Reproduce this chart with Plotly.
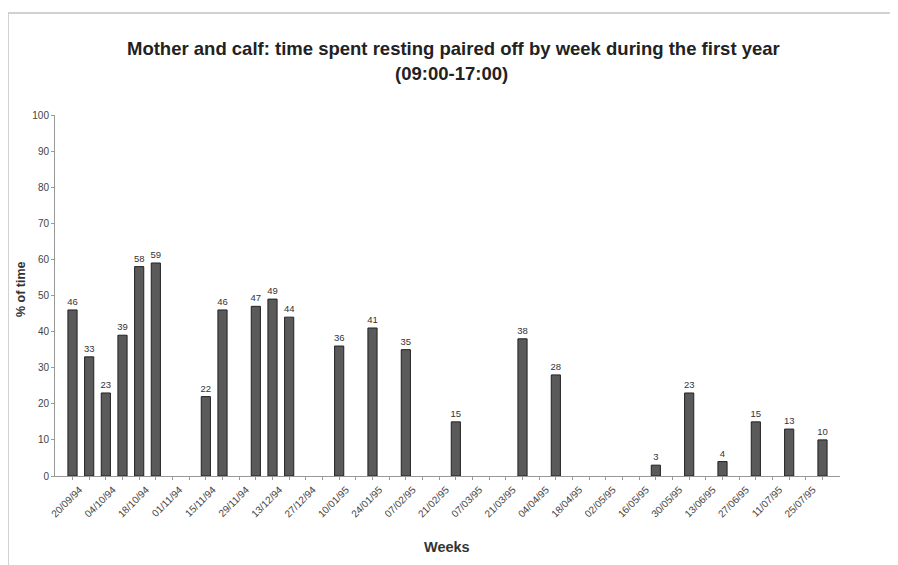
import plotly.graph_objects as go

weeks = ["20/09/94", "27/09/94", "04/10/94", "11/10/94", "18/10/94", "25/10/94",
         "01/11/94", "08/11/94", "15/11/94", "22/11/94", "29/11/94", "06/12/94",
         "13/12/94", "20/12/94", "27/12/94", "03/01/95", "10/01/95", "17/01/95",
         "24/01/95", "31/01/95", "07/02/95", "14/02/95", "21/02/95", "28/02/95",
         "07/03/95", "14/03/95", "21/03/95", "28/03/95", "04/04/95", "11/04/95",
         "18/04/95", "25/04/95", "02/05/95", "09/05/95", "16/05/95", "23/05/95",
         "30/05/95", "06/06/95", "13/06/95", "20/06/95", "27/06/95", "04/07/95",
         "11/07/95", "18/07/95", "25/07/95", "01/08/95"]

pct_time = [46, 33, 23, 39, 58, 59,
            None, None, 22, 46, None, 47,
            49, 44, None, None, 36, None,
            41, None, 35, None, None, 15,
            None, None, None, 38, None, 28,
            None, None, None, None, None, 3,
            None, 23, None, 4, None, 15,
            None, 13, None, 10]

tick_labels = [w if i % 2 == 0 else "" for i, w in enumerate(weeks)]
bar_text = ["" if v is None else str(v) for v in pct_time]

FONT = "Liberation Sans, Arial, sans-serif"

fig = go.Figure()
fig.add_trace(go.Bar(
    x=weeks, y=pct_time, text=bar_text, textposition="outside",
    constraintext="none",
    textfont=dict(size=9.5, color="#333", family=FONT),
    marker=dict(color="#5a5a5a", line=dict(color="#222", width=1)),
    width=0.55, cliponaxis=False, showlegend=False,
))

# page has an 8px body margin; figure sized to fit the 898x565 window
OFF = 8
W, H = 890, 557
L, R, T, B = 47, 58, 107, 89
pw, ph = W - L - R, H - T - B

def px(xp):
    return (xp - OFF - L) / pw

def py(yp):
    return (H - B - (yp - OFF)) / ph

fig.update_layout(
    width=W, height=H,
    margin=dict(l=L, r=R, t=T, b=B),
    paper_bgcolor="white", plot_bgcolor="white",
    font=dict(family=FONT, color="#333"),
    xaxis=dict(
        type="category", range=[-1.05, 46.05],
        tickmode="array", tickvals=weeks, ticktext=tick_labels,
        tickangle=-45, tickfont=dict(size=10, color="#444"),
        ticklabelshift=7,
        ticks="outside", ticklen=3, tickcolor="#999",
        showline=True, linecolor="#999", linewidth=1,
        showgrid=False, zeroline=False,
    ),
    yaxis=dict(
        range=[0, 100], dtick=10, tickfont=dict(size=10, color="#444"),
        ticks="outside", ticklen=3, tickcolor="#999",
        showline=True, linecolor="#999", linewidth=1,
        showgrid=False, zeroline=False,
    ),
    annotations=[
        dict(text="<b>Mother and calf: time spent resting paired off by week during the first year</b>",
             x=px(453), y=py(48), xref="paper", yref="paper", showarrow=False,
             font=dict(size=18.5, color="#222", family=FONT), xanchor="center", yanchor="middle"),
        dict(text="<b>(09:00-17:00)</b>",
             x=px(451), y=py(73), xref="paper", yref="paper", showarrow=False,
             font=dict(size=18.5, color="#222", family=FONT), xanchor="center", yanchor="middle"),
        dict(text="<b>Weeks</b>", x=px(447), y=py(547), xref="paper", yref="paper",
             showarrow=False, font=dict(size=14.5, color="#333", family=FONT),
             xanchor="center", yanchor="middle"),
        dict(text="<b>% of time</b>", x=px(21), y=py(289), xref="paper", yref="paper",
             showarrow=False, textangle=-90, font=dict(size=12.5, color="#333", family=FONT),
             xanchor="center", yanchor="middle"),
    ],
    shapes=[
        dict(type="rect", xref="paper", yref="paper",
             x0=px(8), x1=px(897), y0=py(600), y1=py(13),
             line=dict(color="#c4c4c4", width=1.5), layer="below"),
    ],
)

fig.write_html("out.html")
